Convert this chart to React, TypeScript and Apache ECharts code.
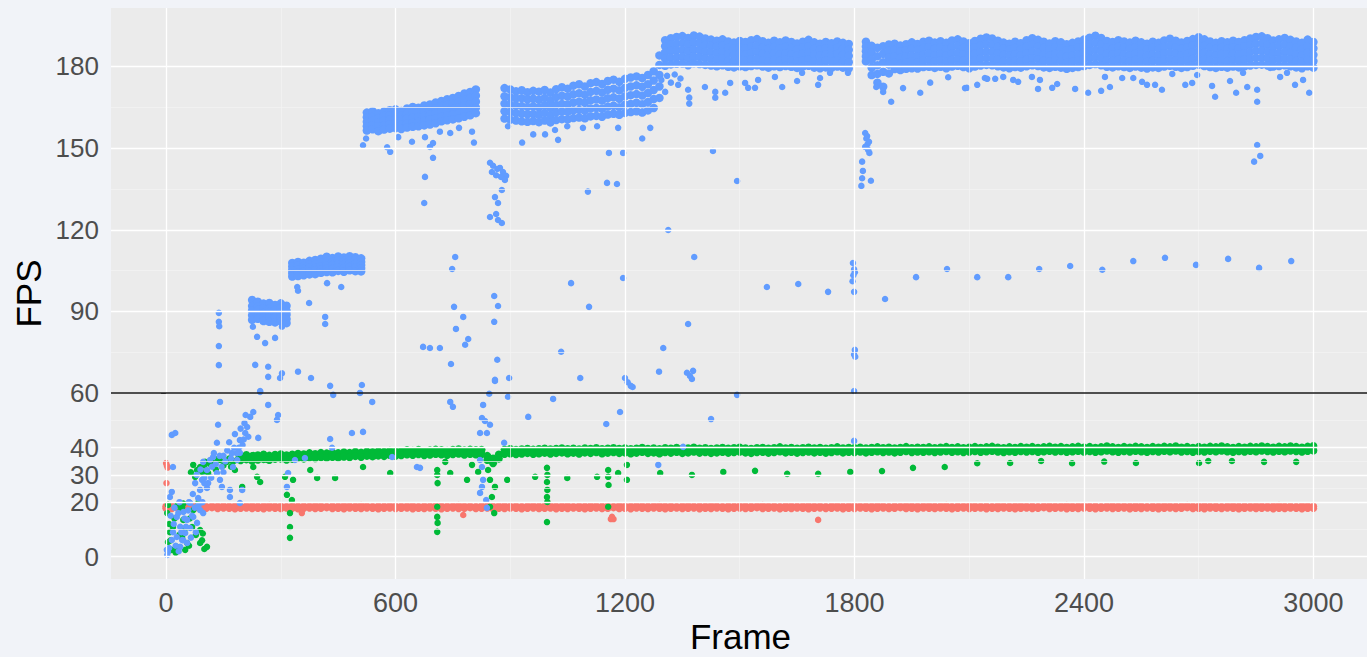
import React, { useEffect, useRef } from "react";
import * as echarts from "echarts";

// ---------- axes ----------
const xTicks = [0, 600, 1200, 1800, 2400, 3000];
const xMinor = [300, 900, 1500, 2100, 2700];
const yTicks = [0, 20, 30, 40, 60, 90, 120, 150, 180];
const yMinor = [10, 25, 35, 50, 75, 105, 135, 165];
const refLine = 60;
const bandStep = 15; // frames between sampled columns of the dense bands

// ---------- red series (band at ~18 FPS, sampled every 15 frames) ----------
const redHi = [
  18.5,18.6,18.4,18.7,18.5,18.6,18.8,18.4,18.6,18.5,
  18.7,18.5,18.6,18.4,18.6,18.7,18.5,18.6,18.8,18.5,
  18.6,18.4,18.7,18.5,18.6,18.5,18.7,18.6,18.4,18.6,
  18.5,18.7,18.6,18.5,18.8,18.6,18.4,18.6,18.5,18.7,
  18.6,18.5,18.6,18.7,18.4,18.6,18.5,18.7,18.6,18.5,
  18.6,18.8,18.5,18.6,18.4,18.7,18.6,18.5,18.6,18.7,
  18.5,18.6,18.4,18.6,18.7,18.5,18.6,18.8,18.5,18.6,
  18.7,18.4,18.6,18.5,18.7,18.6,18.5,18.6,18.4,18.7,
  18.6,18.5,18.7,18.6,18.5,18.6,18.8,18.5,18.6,18.4,
  18.6,18.7,18.5,18.6,18.5,18.7,18.6,18.4,18.6,18.5,
  18.7,18.6,18.5,18.6,18.8,18.5,18.6,18.4,18.7,18.6,
  18.5,18.6,18.7,18.5,18.6,18.4,18.6,18.7,18.5,18.6,
  18.8,18.5,18.6,18.5,18.7,18.6,18.4,18.6,18.5,18.7,
  18.6,18.5,18.6,18.7,18.5,18.6,18.8,18.4,18.6,18.5,
  18.7,18.6,18.5,18.6,18.4,18.7,18.6,18.5,18.6,18.7,
  18.5,18.6,18.4,18.6,18.7,18.5,18.6,18.8,18.5,18.6,
  18.7,18.5,18.6,18.4,18.6,18.7,18.5,18.6,18.5,18.7,
  18.6,18.4,18.6,18.5,18.7,18.6,18.5,18.6,18.8,18.5,
  18.6,18.7,18.5,18.6,18.4,18.6,18.7,18.5,18.6,18.5,
  18.7,18.6,18.5,18.6,18.8,18.5,18.6,18.4,18.7,18.6,
  18.5,
];
const redLo = [
  17.8,17.7,17.9,17.6,17.8,17.9,17.7,17.8,18.0,17.7,
  17.9,17.8,17.6,17.8,17.9,17.7,17.8,17.6,17.9,17.8,
  17.7,17.9,17.8,17.6,17.8,17.9,17.7,17.8,18.0,17.7,
  17.8,17.6,17.9,17.8,17.7,17.9,17.8,17.6,17.8,17.9,
  17.7,17.8,17.9,17.6,17.8,17.7,17.9,17.8,17.6,17.8,
  17.9,17.7,17.8,18.0,17.7,17.8,17.9,17.6,17.8,17.7,
  17.9,17.8,17.6,17.8,17.9,17.7,17.8,17.9,17.6,17.8,
  17.7,17.9,17.8,17.6,17.8,17.9,17.7,17.8,18.0,17.7,
  17.8,17.6,17.9,17.8,17.7,17.9,17.8,17.6,17.8,17.9,
  17.7,17.8,17.9,17.6,17.8,17.7,17.9,17.8,17.6,17.8,
  17.9,17.7,17.8,18.0,17.7,17.8,17.9,17.6,17.8,17.7,
  17.9,17.8,17.6,17.8,17.9,17.7,17.8,17.9,17.6,17.8,
  17.7,17.9,17.8,17.6,17.8,17.9,17.7,17.8,18.0,17.7,
  17.8,17.6,17.9,17.8,17.7,17.9,17.8,17.6,17.8,17.9,
  17.7,17.8,17.9,17.6,17.8,17.7,17.9,17.8,17.6,17.8,
  17.9,17.7,17.8,18.0,17.7,17.8,17.9,17.6,17.8,17.7,
  17.9,17.8,17.6,17.8,17.9,17.7,17.8,17.9,17.6,17.8,
  17.7,17.9,17.8,17.6,17.8,17.9,17.7,17.8,18.0,17.7,
  17.8,17.6,17.9,17.8,17.7,17.9,17.8,17.6,17.8,17.9,
  17.7,17.8,17.9,17.6,17.8,17.7,17.9,17.8,17.6,17.8,
  17.8,
];
const redScatter = [
  [0, 34.4], [2, 33.5], [4, 32.7], [1, 27.0], [355, 16.0], [777, 15.3],
  [1163, 13.8], [1170, 13.8], [1166, 14.6], [1705, 13.5],
];

// ---------- green series (band at ~38-40 FPS, sampled every 15 frames) ----------
const greenHi = [
  null,null,null,null,null,null,null,null,null,null,
  null,null,null,37.0,37.3,36.9,37.2,37.5,37.1,37.4,
  37.6,37.2,37.5,37.8,37.6,38.0,37.7,38.1,37.9,38.2,
  38.0,38.3,38.1,38.5,38.2,38.6,38.4,38.7,38.5,38.9,
  38.6,38.8,39.1,38.9,39.2,38.8,39.0,39.3,39.1,38.9,
  39.2,39.4,39.0,39.3,39.1,39.2,37.0,36.0,37.5,39.3,
  39.5,39.2,39.4,39.6,39.3,39.5,39.7,39.4,39.6,39.8,
  39.5,39.7,39.4,39.8,39.6,39.9,39.5,39.7,39.9,39.6,
  39.8,39.5,39.7,40.0,39.6,39.8,39.5,39.9,39.7,40.0,
  39.6,39.8,40.1,39.7,39.9,39.6,39.8,40.0,39.7,39.9,
  40.1,39.8,39.6,39.9,40.0,39.7,39.9,40.2,39.8,40.0,
  39.7,39.9,40.1,39.8,40.0,39.7,39.9,40.2,39.8,40.0,
  39.9,40.1,39.8,40.0,40.2,39.9,40.1,39.8,40.0,40.3,
  39.9,40.1,40.0,40.2,39.9,40.1,40.3,40.0,40.2,39.9,
  40.1,40.3,40.0,40.2,40.4,40.1,39.9,40.2,40.0,40.3,
  40.1,40.3,40.0,40.2,40.4,40.1,40.3,40.0,40.2,40.4,
  40.1,40.3,40.0,40.2,40.5,40.2,40.0,40.3,40.1,40.4,
  40.2,40.0,40.3,40.1,40.4,40.2,40.5,40.1,40.3,40.0,
  40.3,40.1,40.4,40.2,40.5,40.2,40.0,40.3,40.1,40.4,
  40.2,40.5,40.3,40.1,40.4,40.2,40.5,40.3,40.1,40.4,
  40.6,
];
const greenLo = [
  null,null,null,null,null,null,null,null,null,null,
  null,null,null,35.4,35.7,35.2,35.6,35.8,35.5,35.9,
  36.0,35.6,35.9,36.2,36.0,36.4,36.1,36.5,36.3,36.6,
  36.4,36.7,36.5,36.9,36.6,37.0,36.8,37.1,36.9,37.3,
  37.0,37.2,37.5,37.3,37.6,37.2,37.4,37.7,37.5,37.3,
  37.6,37.8,37.4,37.7,37.5,37.6,35.5,34.3,36.0,37.7,
  37.9,37.6,37.8,38.0,37.7,37.9,38.1,37.8,38.0,38.2,
  37.9,38.1,37.8,38.2,38.0,38.3,37.9,38.1,38.3,38.0,
  38.2,37.9,38.1,38.4,38.0,38.2,37.9,38.3,38.1,38.4,
  38.0,38.2,38.5,38.1,38.3,38.0,38.2,38.4,38.1,38.3,
  38.5,38.2,38.0,38.3,38.4,38.1,38.3,38.6,38.2,38.4,
  38.1,38.3,38.5,38.2,38.4,38.1,38.3,38.6,38.2,38.4,
  38.3,38.5,38.2,38.4,38.6,38.3,38.5,38.2,38.4,38.7,
  38.3,38.5,38.4,38.6,38.3,38.5,38.7,38.4,38.6,38.3,
  38.5,38.7,38.4,38.6,38.8,38.5,38.3,38.6,38.4,38.7,
  38.5,38.7,38.4,38.6,38.8,38.5,38.7,38.4,38.6,38.8,
  38.5,38.7,38.4,38.6,38.9,38.6,38.4,38.7,38.5,38.8,
  38.6,38.4,38.7,38.5,38.8,38.6,38.9,38.5,38.7,38.4,
  38.7,38.5,38.8,38.6,38.9,38.6,38.4,38.7,38.5,38.8,
  38.6,38.9,38.7,38.5,38.8,38.6,38.9,38.7,38.5,38.8,
  39.0,
];
const greenScatter = [
  [5,5.4],[10,9],[3,16],[5,19],[18,10.9],[15,2.5],[28,3.6],[42,7.2],[42,18.2],[45,13.5],
  [50,2.5],[55,5],[68,10.9],[71,17.1],[89,9.8],[89,5],[107,3.6],[8,12],[12,6],[22,14],
  [25,1.5],[35,8],[38,17],[48,10],[60,4],[62,14],[78,8],[85,20],[94,6],[45,19.5],
  [30,19],[96,8.5],[100,2.8],
  [81,31.8],[71,33.7],[76,29.3],[89,32.9],[102,34.8],[110,30.7],[123,34.4],[141,35.5],[159,34.8],
  [175,34.8],[180,31.8],[199,25.6],[212,36.2],[228,37.3],[238,29.3],[246,27.4],[228,32.9],[264,35.5],
  [65,31],[95,31],[100,33.5],[115,34],[130,32],[135,35.8],[150,33.5],[165,36],[170,33],[185,35.5],
  [190,37],[200,36.5],
  [316,22.7],[324,16],[324,10.9],[324,6.9],[329,20.8],[332,28.2],[311,29.3],
  [377,31.8],[395,28.9],[442,28.9],[515,32.9],[586,30.7],
  [709,31.8],[709,30],[710,27],[709,18.3],[709,14.6],[710,12.4],[709,9.1],
  [730,34.8],[743,30.7],[787,28.2],[800,33.7],[816,31.1],
  [847,28.2],[852,21.9],[847,18.3],[858,16],[842,31.8],[860,25.6],[892,28.2],[965,29.3],
  [996,32.6],[997,30],[996,27.4],[997,24.5],[996,21.9],[997,20.1],[996,12.7],
  [1049,28.9],[1127,29.3],[1156,31.8],[1156,29.3],[1157,26.3],[1156,18.3],[1182,30.7],
  [1205,33.7],[1205,28.2],[1292,30.7],[1375,30],[1457,31.1],[1540,31.5],[1624,30.4],
  [1705,30.4],[1789,31.1],[1872,31.4],[1953,32.6],[2036,32.9],[2121,34.3],[2207,34.4],
  [2288,35.1],[2369,34.3],[2453,34.9],[2536,34.4],[2701,34.4],[2725,35.1],[2787,35.1],
  [2871,34.8],[2955,34.8],
];

// ---------- blue series: dense bands [frame, five values across the band] ----------
const blueBand90 = [
  [225, 94.2, 92.0, 90.3, 88.6, 86.9],
  [240, 93.6, 91.8, 90.5, 88.2, 87.3],
  [255, 92.9, 91.2, 89.4, 88.0, 86.5],
  [270, 93.1, 91.0, 89.8, 87.6, 86.2],
  [285, 92.4, 90.6, 89.0, 87.9, 86.0],
  [300, 93.0, 91.3, 89.6, 87.8, 86.4],
  [315, 92.1, 90.2, 88.8, 87.2, 85.7],
];
const blueBand106 = [
  [330, 107.8, 106.5, 105.2, 104.0, 102.8],
  [345, 108.2, 106.8, 105.5, 104.3, 103.0],
  [360, 107.9, 106.9, 105.6, 104.6, 103.3],
  [375, 108.6, 107.2, 106.1, 104.8, 103.6],
  [390, 108.9, 107.5, 106.0, 105.1, 103.7],
  [405, 109.4, 107.9, 106.6, 105.3, 104.2],
  [420, 110.1, 108.4, 107.0, 105.8, 104.5],
  [435, 109.6, 108.3, 107.1, 105.6, 104.4],
  [450, 110.2, 108.8, 107.3, 106.2, 104.9],
  [465, 109.8, 108.5, 107.4, 106.0, 104.6],
  [480, 110.3, 108.7, 107.6, 106.3, 105.1],
  [495, 109.9, 108.9, 107.5, 106.1, 104.8],
  [510, 109.5, 108.2, 107.0, 105.9, 104.7],
];
const blueBand160 = [
  [525, 163.0, 161.3, 159.6, 158.0, 156.4],
  [540, 163.5, 161.6, 160.1, 158.4, 156.9],
  [555, 162.8, 161.0, 159.5, 157.9, 156.2],
  [570, 163.4, 161.8, 160.2, 158.3, 156.8],
  [585, 163.9, 162.0, 160.4, 158.7, 157.1],
  [600, 164.2, 162.3, 160.6, 158.9, 157.3],
  [615, 163.6, 161.9, 160.3, 158.5, 157.0],
  [630, 164.5, 162.6, 160.9, 159.1, 157.5],
  [645, 165.1, 163.0, 161.2, 159.4, 157.8],
  [660, 164.8, 162.9, 161.4, 159.6, 158.0],
  [675, 165.6, 163.7, 161.8, 159.9, 158.3],
  [690, 166.0, 164.1, 162.2, 160.4, 158.6],
  [705, 166.7, 164.6, 162.8, 160.8, 159.1],
  [720, 167.3, 165.4, 163.4, 161.5, 159.8],
  [735, 167.9, 165.8, 163.9, 161.9, 160.2],
  [750, 168.4, 166.2, 164.3, 162.3, 160.5],
  [765, 169.1, 166.9, 164.8, 162.7, 160.9],
  [780, 170.0, 167.8, 165.6, 163.4, 161.5],
  [795, 170.6, 168.4, 166.1, 164.0, 162.0],
  [810, 171.5, 169.2, 167.0, 164.8, 162.8],
];
const blueBand165 = [
  [885, 172.0, 169.0, 166.3, 163.5, 160.8],
  [900, 171.5, 168.6, 165.9, 163.2, 160.4],
  [915, 170.8, 168.2, 165.5, 162.8, 160.1],
  [930, 171.2, 168.3, 165.4, 162.6, 159.8],
  [945, 170.5, 167.9, 165.1, 162.4, 159.6],
  [960, 171.0, 168.1, 165.3, 162.5, 159.9],
  [975, 170.7, 167.7, 164.9, 162.2, 159.5],
  [990, 171.3, 168.4, 165.6, 162.9, 160.1],
  [1005, 170.4, 167.5, 164.8, 162.0, 159.4],
  [1020, 171.6, 168.7, 165.8, 163.1, 160.3],
  [1035, 172.3, 169.2, 166.2, 163.4, 160.6],
  [1050, 171.8, 168.9, 166.0, 163.3, 160.5],
  [1065, 172.9, 169.7, 166.7, 163.8, 161.0],
  [1080, 173.4, 170.1, 167.0, 164.0, 161.2],
  [1095, 172.6, 169.5, 166.6, 163.7, 160.9],
  [1110, 173.8, 170.6, 167.5, 164.5, 161.6],
  [1125, 174.2, 171.0, 167.8, 164.7, 161.8],
  [1140, 173.5, 170.4, 167.4, 164.4, 161.5],
  [1155, 174.6, 171.4, 168.3, 165.2, 162.3],
  [1170, 175.1, 171.8, 168.6, 165.5, 162.6],
  [1185, 174.3, 171.2, 168.1, 165.0, 162.2],
  [1200, 175.4, 172.1, 169.0, 165.9, 162.9],
  [1215, 175.9, 172.6, 169.4, 166.2, 163.2],
  [1230, 176.3, 173.0, 169.8, 166.6, 163.5],
  [1245, 175.7, 172.5, 169.3, 166.1, 163.0],
  [1260, 176.8, 173.4, 170.2, 166.9, 163.8],
  [1275, 178.2, 174.8, 171.3, 168.0, 164.7],
  [1290, 184.0, 180.5, 176.8, 172.6, 168.4],
];
const blueBand184 = [
  [1305, 189.6, 187.4, 185.1, 182.8, 180.2],
  [1320, 190.3, 187.9, 185.6, 183.2, 180.7],
  [1335, 190.8, 188.3, 185.8, 183.3, 180.9],
  [1350, 191.1, 188.5, 186.0, 183.5, 181.0],
  [1365, 190.4, 188.0, 185.5, 183.0, 180.4],
  [1380, 191.3, 188.8, 186.2, 183.6, 181.1],
  [1395, 190.9, 188.4, 185.9, 183.4, 180.8],
  [1410, 190.2, 187.8, 185.4, 183.0, 180.5],
  [1425, 189.8, 187.5, 185.1, 182.7, 180.3],
  [1440, 189.4, 187.1, 184.8, 182.4, 180.0],
  [1455, 189.9, 187.6, 185.2, 182.9, 180.4],
  [1470, 189.1, 186.8, 184.5, 182.1, 179.8],
  [1485, 188.7, 186.5, 184.2, 181.9, 179.6],
  [1500, 189.3, 187.0, 184.7, 182.3, 180.0],
  [1515, 188.9, 186.6, 184.3, 182.0, 179.7],
  [1530, 189.6, 187.2, 184.9, 182.5, 180.1],
  [1545, 190.0, 187.6, 185.2, 182.8, 180.4],
  [1560, 189.2, 186.9, 184.6, 182.2, 179.9],
  [1575, 188.6, 186.4, 184.1, 181.8, 179.5],
  [1590, 189.4, 187.1, 184.7, 182.4, 180.0],
  [1605, 188.8, 186.6, 184.3, 182.0, 179.7],
  [1620, 189.5, 187.1, 184.8, 182.4, 180.1],
  [1635, 188.9, 186.7, 184.4, 182.1, 179.8],
  [1650, 188.4, 186.2, 184.0, 181.7, 179.4],
  [1665, 189.0, 186.8, 184.5, 182.2, 179.9],
  [1680, 189.7, 187.3, 184.9, 182.6, 180.2],
  [1695, 188.8, 186.5, 184.2, 181.9, 179.5],
  [1710, 188.3, 186.1, 183.9, 181.6, 179.3],
  [1725, 188.9, 186.6, 184.3, 182.0, 179.6],
  [1740, 188.5, 186.3, 184.1, 181.8, 179.4],
  [1755, 189.1, 186.8, 184.6, 182.2, 179.9],
  [1770, 188.6, 186.4, 184.2, 181.9, 179.5],
  [1785, 188.2, 186.0, 183.8, 181.5, 179.2],
];
const blueBandLate = [
  [1830, 189.0, 187.2, 185.5, 183.6, 181.8],
  [1845, 187.5, 185.0, 182.3, 179.5, 176.8],
  [1860, 186.8, 183.7, 180.4, 177.2, 174.0],
  [1875, 187.4, 184.6, 181.5, 178.0, 172.5],
  [1890, 188.0, 185.6, 183.2, 180.6, 177.4],
  [1905, 188.3, 186.0, 183.7, 181.4, 179.0],
  [1920, 187.6, 185.4, 183.1, 180.9, 178.6],
  [1935, 188.1, 185.9, 183.6, 181.3, 179.1],
  [1950, 188.8, 186.4, 184.0, 181.7, 179.3],
  [1965, 188.2, 186.0, 183.7, 181.5, 179.2],
  [1980, 189.0, 186.7, 184.3, 182.0, 179.7],
  [1995, 189.4, 187.0, 184.6, 182.2, 179.8],
  [2010, 188.7, 186.4, 184.1, 181.8, 179.4],
  [2025, 189.2, 186.9, 184.5, 182.1, 179.8],
  [2040, 188.6, 186.3, 184.0, 181.7, 179.3],
  [2055, 189.5, 187.1, 184.7, 182.3, 179.9],
  [2070, 189.9, 187.5, 185.0, 182.6, 180.2],
  [2085, 189.1, 186.8, 184.4, 182.1, 179.7],
  [2100, 188.5, 186.2, 183.9, 181.6, 179.3],
  [2115, 189.3, 187.0, 184.6, 182.2, 179.9],
  [2130, 190.1, 187.7, 185.2, 182.8, 180.3],
  [2145, 190.6, 188.1, 185.5, 183.0, 180.5],
  [2160, 190.2, 187.8, 185.3, 182.9, 180.4],
  [2175, 189.4, 187.1, 184.8, 182.4, 180.0],
  [2190, 188.7, 186.5, 184.2, 181.9, 179.6],
  [2205, 188.3, 186.1, 183.9, 181.6, 179.3],
  [2220, 189.0, 186.7, 184.4, 182.0, 179.7],
  [2235, 188.5, 186.3, 184.0, 181.8, 179.5],
  [2250, 189.6, 187.2, 184.8, 182.4, 180.0],
  [2265, 190.3, 187.9, 185.4, 182.9, 180.4],
  [2280, 189.7, 187.3, 184.9, 182.5, 180.1],
  [2295, 189.0, 186.7, 184.3, 182.0, 179.6],
  [2310, 188.4, 186.2, 183.9, 181.7, 179.4],
  [2325, 189.2, 186.9, 184.5, 182.2, 179.8],
  [2340, 188.8, 186.5, 184.2, 181.9, 179.5],
  [2355, 188.1, 185.9, 183.6, 181.4, 179.1],
  [2370, 188.6, 186.3, 184.0, 181.7, 179.4],
  [2385, 189.1, 186.8, 184.4, 182.1, 179.7],
  [2400, 189.8, 187.4, 185.0, 182.6, 180.1],
  [2415, 190.5, 188.0, 185.5, 183.0, 180.5],
  [2430, 191.2, 188.6, 186.0, 183.4, 180.8],
  [2445, 190.4, 187.9, 185.4, 182.9, 180.4],
  [2460, 189.3, 187.0, 184.6, 182.2, 179.8],
  [2475, 188.9, 186.6, 184.3, 182.0, 179.6],
  [2490, 189.6, 187.2, 184.8, 182.4, 180.0],
  [2505, 189.1, 186.8, 184.4, 182.1, 179.7],
  [2520, 188.7, 186.4, 184.1, 181.8, 179.4],
  [2535, 189.4, 187.0, 184.6, 182.3, 179.9],
  [2550, 188.8, 186.5, 184.2, 181.9, 179.5],
  [2565, 188.3, 186.1, 183.8, 181.6, 179.2],
  [2580, 189.0, 186.7, 184.3, 182.0, 179.6],
  [2595, 188.6, 186.4, 184.1, 181.8, 179.4],
  [2610, 189.5, 187.1, 184.7, 182.3, 179.9],
  [2625, 190.1, 187.6, 185.1, 182.6, 180.2],
  [2640, 189.4, 187.0, 184.6, 182.2, 179.8],
  [2655, 188.7, 186.4, 184.1, 181.8, 179.4],
  [2670, 189.3, 186.9, 184.5, 182.1, 179.7],
  [2685, 190.0, 187.6, 185.1, 182.7, 180.2],
  [2700, 190.7, 188.2, 185.6, 183.1, 180.6],
  [2715, 189.9, 187.5, 185.0, 182.6, 180.1],
  [2730, 189.1, 186.8, 184.4, 182.1, 179.7],
  [2745, 188.6, 186.4, 184.1, 181.8, 179.4],
  [2760, 189.2, 186.9, 184.5, 182.2, 179.8],
  [2775, 188.8, 186.5, 184.2, 181.9, 179.5],
  [2790, 189.4, 187.0, 184.6, 182.3, 179.9],
  [2805, 188.9, 186.6, 184.3, 182.0, 179.6],
  [2820, 189.6, 187.2, 184.8, 182.4, 180.0],
  [2835, 190.2, 187.8, 185.3, 182.8, 180.3],
  [2850, 190.8, 188.3, 185.7, 183.1, 180.5],
  [2865, 191.0, 188.4, 185.8, 183.2, 180.6],
  [2880, 190.3, 187.8, 185.3, 182.8, 180.3],
  [2895, 189.5, 187.1, 184.7, 182.3, 179.9],
  [2910, 189.9, 187.5, 185.0, 182.6, 180.1],
  [2925, 190.4, 187.9, 185.4, 182.9, 180.4],
  [2940, 189.7, 187.3, 184.9, 182.5, 180.0],
  [2955, 189.1, 186.8, 184.4, 182.0, 179.6],
  [2970, 188.6, 186.3, 184.0, 181.7, 179.3],
  [2985, 189.8, 187.4, 185.0, 182.5, 180.0],
  [3000, 188.9, 186.6, 184.2, 181.9, 179.5],
];

// ---------- blue series: scattered points [frame, fps] ----------
const blueEarly = [
  [3,0.6],[5,1.7],[2,2.5],[8,3.2],[15,6.1],[18,9],[28,7.2],[37,11],[42,6.1],[50,8.7],
  [55,13.5],[63,10.5],[71,14.6],[81,12.4],[89,17.1],[97,16],[15,23.8],[10,21.9],[18,32.9],[15,44.7],
  [24,45.4],[89,24.5],[94,28.2],[107,31.8],[115,35.5],[123,36.6],[97,34.8],[133,41.8],[136,48.4],[141,56.8],
  [133,30.7],[141,28.2],[146,25.6],[167,24.5],[167,21.9],[175,32.9],[186,35.5],[193,38.1],[193,42.8],[207,45.4],
  [212,47.6],[220,51.3],[228,53.1],[246,60.5],[267,55.7],[241,43.6],[290,50.2],[293,52],[193,19.7],[76,27],
  [84,21.5],[107,25.2],[63,19.7],[45,16.4],[55,5],[37,3.6],[28,14.6],[20,12],[25,4],[32,16],
  [40,9],[48,14],[58,17],[65,7],[75,18],[85,19],[95,20],[60,20],[70,23],[80,30],
  [90,32],[100,29],[110,27],[120,33],[130,34],[140,37],[150,31],[155,35],[160,39],[170,36],
  [178,40],[185,38],[200,41],[205,49],[215,44],[100,27],[118,29],[125,38],[145,33],[150,37],
  [165,42],[172,38],[180,45],[190,40],[195,47],[203,43],[208,52],[12,15],[22,18],[35,20],
  [52,11],[68,15],[78,9],[33,2],[45,6],
];
const blueMid = [
  [138,89.5],[138,86.2],[139,84.6],[138,77.3],[138,70.3],
  [227,84.4],[238,80.7],[259,78.4],[285,80.3],[303,84.4],[233,70.4],[267,69.7],[267,66],[303,67.3],
  [298,65.6],[345,67.9],[379,65.6],[429,62.7],[246,60.8],[437,59.4],[512,63],[507,60.1],
  [343,99],[345,97.6],[421,100.4],[458,99],[374,93.1],[416,88],[416,85.4],
  [429,43.2],[486,45.4],[515,45.8],[539,56.8],[337,35.5],[363,36.2],[434,40],[319,30.7],[316,25.6],
  [199,24.5],
  [515,151],[523,153.5],[578,150.3],[586,148.6],[607,154],[643,152.3],[677,154],[690,150.4],
  [698,151.8],[698,146.4],[677,139.4],[675,129.8],[716,156],[743,155.5],[766,157.4],[800,156],[805,152],
  [756,110],[748,105.6],[753,91.7],[777,88],[758,83.6],[790,79.9],[782,77.8],[745,70.7],[672,77],
  [690,76.6],[716,76.6],[858,95.7],[868,92],[858,86.2],[866,72.3],[860,64.5],[897,65.6],
  [847,144.6],[855,143.5],[866,142.3],[873,142.7],[881,141.2],[889,139.8],[852,141.2],[863,140],
  [876,139.4],[886,138.3],[878,134.6],[860,132],[868,129.8],[847,124.7],[868,123.6],[878,122.5],[863,125.8],
  [743,56.8],[750,55],[829,55.7],[826,50.9],[847,48.4],[834,49.8],[821,45.4],[839,45.4],[884,41.8],
  [947,51.3],[1012,57.9],[656,32.9],[664,32.6],[591,36.6],[860,64.9],[894,58.7],[845,59.8],
  [821,35.5],[826,32.9],[829,28.2],[826,25.6],[821,23.4],[837,20.8],[839,17.9],
];
const blueLate = [
  [894,158],[931,152],[960,155],[991,155],[1025,153],[1017,156.6],[1049,158],[1090,157.4],[1127,158],
  [1182,157.4],[1245,153.5],[1266,157.4],[1158,148.2],[1195,148.2],[1153,137.2],[1179,136.8],[1103,134],
  [1059,100.4],[1106,91.7],[1033,75.2],[1083,65.6],[1195,102.3],[1151,48.7],[1187,53.1],[1287,33.7],
  [1352,40.3],[1425,50.5],[1493,59.4],[1200,65.6],[1207,64],[1215,62.7],[1220,62.3],[1289,67.9],[1300,76.6],
  [1313,119.9],[1381,110],[1365,85.4],[1362,67.5],[1370,66.3],[1375,65.2],[1378,68.2],
  [1305,170.6],[1339,173.2],[1365,171.4],[1368,168.5],[1368,166.3],[1409,172.4],[1436,170.6],[1436,168.5],
  [1462,170.3],[1475,173.9],[1514,173.9],[1522,172.1],[1540,172.1],[1548,175],[1592,176.1],[1611,172.4],
  [1650,174.6],[1663,177.6],[1705,173.2],[1710,175.7],[1736,177.6],[1768,179.4],[1783,177.6],
  [1430,148.9],[1493,137.9],[1571,99],[1653,100.1],[1731,97.2],
  [1295,175],[1310,176.5],[1320,174],[1330,177],[1345,175.5],
  [1828,155.5],[1831,153.5],[1834,151.4],[1836,149.3],[1839,148.2],[1828,150.4],[1833,154.4],[1838,152.3],
  [1820,145],[1822,141.6],[1820,138.9],[1818,136.1],[1843,138],
  [1796,107.8],[1799,105.5],[1801,104.4],[1797,103.3],[1795,101.1],[1799,97.2],[1801,75.9],[1799,74.2],
  [1802,73.4],[1799,60.8],[1799,42.5],
  [1880,94.6],[1857,172.4],[1875,170.6],[1896,167],[1927,172],[1972,170.3],[1998,174],[2045,176],
  [2089,172],[2141,175.7],
  [1961,102.6],[2042,105.6],[2121,102.6],[2202,102.6],[2283,105.6],[2364,106.7],[2448,105.3],
  [2529,108.5],[2612,109.7],[2693,107.1],[2777,109.3],[2858,106],[2942,108.5],
  [2094,172.1],[2121,173.2],[2147,175.4],[2168,175.4],[2189,176.1],[2215,175],[2228,174.3],[2264,176.1],
  [2280,171.7],[2285,175],[2317,172.1],[2330,173.5],[2377,171.7],[2411,170.3],[2445,171],[2468,172.4],
  [2455,176.1],[2500,175.7],[2529,175.7],[2552,174.3],[2565,173.2],[2586,173.2],[2604,171.4],[2631,177.2],
  [2665,173.2],[2683,173.9],[2696,176.8],[2735,172.8],[2743,168.8],[2782,174.6],[2798,170.3],[2816,177.6],
  [2827,172.4],[2853,171.4],[2853,167],[2887,179.4],[2913,176.1],[2931,177.6],[2952,173.2],[2973,175],
  [2989,170.3],
  [2853,151.1],[2861,147.1],[2845,145],
];

const FONT = "'Liberation Sans', Arial, Helvetica, sans-serif";
const RED = "#F8766D";
const GREEN = "#00BA38";
const BLUE = "#619CFF";

function bandRowsToPoints(rows: number[][]): number[][] {
  const out: number[][] = [];
  rows.forEach((r) => {
    for (let k = 1; k < r.length; k++) out.push([r[0], r[k]]);
  });
  return out;
}

function sampledToPoints(...rows: (number | null)[][]): number[][] {
  const out: number[][] = [];
  rows.forEach((row) => {
    row.forEach((v, i) => {
      if (v !== null && v !== undefined) out.push([i * bandStep, v]);
    });
  });
  return out;
}

export default function App() {
  const ref = useRef<HTMLDivElement>(null);

  useEffect(() => {
    if (!ref.current) return;
    const chart = echarts.init(ref.current, null, { renderer: "svg" });

    const redBand = sampledToPoints(redHi, redLo);
    const greenBand = sampledToPoints(greenHi, greenLo);
    const blueBand = [
      ...bandRowsToPoints(blueBand90),
      ...bandRowsToPoints(blueBand106),
      ...bandRowsToPoints(blueBand160),
      ...bandRowsToPoints(blueBand165),
      ...bandRowsToPoints(blueBand184),
      ...bandRowsToPoints(blueBandLate),
    ];
    const blueScatter = [...blueEarly, ...blueMid, ...blueLate];

    const major = { color: "#FFFFFF", width: 1.3, type: "solid" };
    const minor = { color: "#F4F4F4", width: 0.7, type: "solid" };
    const gridLines = [
      ...xMinor.map((v) => ({ xAxis: v, lineStyle: minor })),
      ...yMinor.map((v) => ({ yAxis: v, lineStyle: minor })),
      ...xTicks.map((v) => ({ xAxis: v, lineStyle: major })),
      ...yTicks.filter((v) => v !== refLine).map((v) => ({ yAxis: v, lineStyle: major })),
    ];

    const dots = (name: string, color: string, size: number, data: number[][]) => ({
      type: "scatter",
      name,
      symbol: "circle",
      symbolSize: size,
      itemStyle: { color, opacity: 1, borderWidth: 0 },
      silent: true,
      z: 3,
      data,
    });

    chart.setOption({
      animation: false,
      backgroundColor: "transparent",
      grid: {
        left: 111,
        top: 8,
        right: -3,
        bottom: 78,
        show: true,
        backgroundColor: "#EBEBEB",
        borderWidth: 0,
        containLabel: false,
        outerBoundsMode: "none",
      },
      xAxis: {
        type: "value",
        min: -144,
        max: 3148,
        axisLine: { show: false },
        splitLine: { show: false },
        axisTick: { show: true, customValues: xTicks, length: 5, lineStyle: { color: "#4D4D4D", width: 1 } },
        axisLabel: {
          customValues: xTicks,
          formatter: (v: number) => String(v),
          fontSize: 27,
          lineHeight: 27,
          color: "#4D4D4D",
          margin: 10,
          fontFamily: FONT,
        },
        name: "Frame",
        nameLocation: "middle",
        nameGap: 40,
        nameMoveOverlap: false,
        nameTextStyle: { fontSize: 35, lineHeight: 35, color: "#000000", fontFamily: FONT },
      },
      yAxis: {
        type: "value",
        min: -8.2,
        max: 201.4,
        axisLine: { show: false },
        splitLine: { show: false },
        axisTick: { show: true, customValues: yTicks, length: 5, lineStyle: { color: "#4D4D4D", width: 1 } },
        axisLabel: {
          customValues: yTicks,
          formatter: (v: number) => String(v),
          fontSize: 26,
          lineHeight: 25,
          color: "#4D4D4D",
          margin: 12,
          fontFamily: FONT,
        },
        name: "FPS",
        nameLocation: "middle",
        nameGap: 65,
        nameMoveOverlap: false,
        nameTextStyle: { fontSize: 35, lineHeight: 35, color: "#000000", fontFamily: FONT },
      },
      series: [
        {
          type: "scatter",
          data: [],
          silent: true,
          z: 1,
          markLine: {
            silent: true,
            symbol: ["none", "none"],
            label: { show: false },
            animation: false,
            lineStyle: { type: "solid" },
            data: gridLines,
          },
        },
        dots("red band", RED, 7.5, redBand),
        dots("red", RED, 6.5, redScatter),
        dots("green band", GREEN, 8, greenBand),
        dots("green", GREEN, 6.5, greenScatter),
        dots("blue band", BLUE, 8.5, blueBand),
        dots("blue", BLUE, 6.5, blueScatter),
        {
          type: "scatter",
          data: [],
          silent: true,
          z: 10,
          markLine: {
            silent: true,
            symbol: ["none", "none"],
            label: { show: false },
            animation: false,
            lineStyle: { type: "solid", color: "#1A1A1A", width: 1.5 },
            data: [{ yAxis: refLine }],
          },
        },
      ],
    });

    return () => chart.dispose();
  }, []);

  return (
    <div
      style={{
        position: "fixed",
        left: 0,
        top: 0,
        width: 1367,
        height: 657,
        background: "#F1F3F8",
      }}
    >
      <div ref={ref} style={{ width: 1367, height: 657 }} />
    </div>
  );
}
